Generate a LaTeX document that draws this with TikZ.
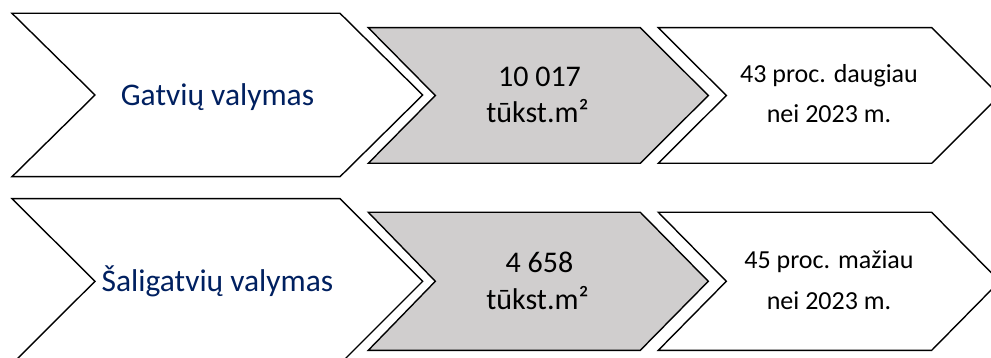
\documentclass[tikz,border=0pt]{standalone}
\usepackage{fontspec}
\setmainfont{Carlito}
\definecolor{navy}{HTML}{002060}
\definecolor{boxgray}{HTML}{D0CECE}
\begin{document}
\begin{tikzpicture}[x=1pt,y=-1pt,
  outline/.style={draw=black,line width=1.4pt,line join=miter},
  lefttext/.style={font=\fontsize{31.5}{36}\selectfont,text=navy,anchor=base,inner sep=0pt},
  graytext/.style={font=\fontsize{30}{36}\selectfont,text=black,anchor=base,inner sep=0pt},
  righttext/.style={font=\fontsize{26}{30}\selectfont,text=black,anchor=base,inner sep=0pt}]
\clip (0,0) rectangle (991,358);
\fill[white] (0,0) rectangle (991,358);
% ---- top row
\draw[outline,fill=white] (12,13.3) -- (340,13.3) -- (422.7,95) -- (340,176.7) -- (12,176.7) -- (95,95) -- cycle;
\draw[outline,fill=boxgray] (368.3,27.7) -- (640.3,27.7) -- (708.3,95.5) -- (640.3,163.3) -- (368.3,163.3) -- (435.3,95.5) -- cycle;
\draw[outline,fill=white] (658.3,27.7) -- (931.7,27.7) -- (999.7,95.5) -- (931.7,163.3) -- (658.3,163.3) -- (726.3,95.5) -- cycle;
% ---- bottom row
\draw[outline,fill=white] (12,198.7) -- (340,198.7) -- (422.7,281.3) -- (340,364) -- (12,364) -- (95,281.3) -- cycle;
\draw[outline,fill=boxgray] (368.3,212.3) -- (640.3,212.3) -- (708.3,281.3) -- (640.3,350.3) -- (368.3,350.3) -- (435.3,281.3) -- cycle;
\draw[outline,fill=white] (658.3,212.3) -- (931.7,212.3) -- (999.7,281.3) -- (931.7,350.3) -- (658.3,350.3) -- (726.3,281.3) -- cycle;
% ---- texts
\node[lefttext] (t1) at (217.5,106) {Gatvių valymas};
\node[graytext] (g1a) at (539.5,86.7) {10 017};
\node[graytext] (g1b) at (537.5,122.5) {tūkst.m²};
\node[righttext] (r1a) at (829,83) {43 proc. daugiau};
\node[righttext] (r1b) at (829,123) {nei 2023 m.};
\node[lefttext] (t2) at (217.5,291.3) {Šaligatvių valymas};
\node[graytext] (g2a) at (539.5,272.3) {4 658};
\node[graytext] (g2b) at (537.5,309.5) {tūkst.m²};
\node[righttext] (r2a) at (829,269) {45 proc. mažiau};
\node[righttext] (r2b) at (829,309) {nei 2023 m.};
\end{tikzpicture}
\end{document}
